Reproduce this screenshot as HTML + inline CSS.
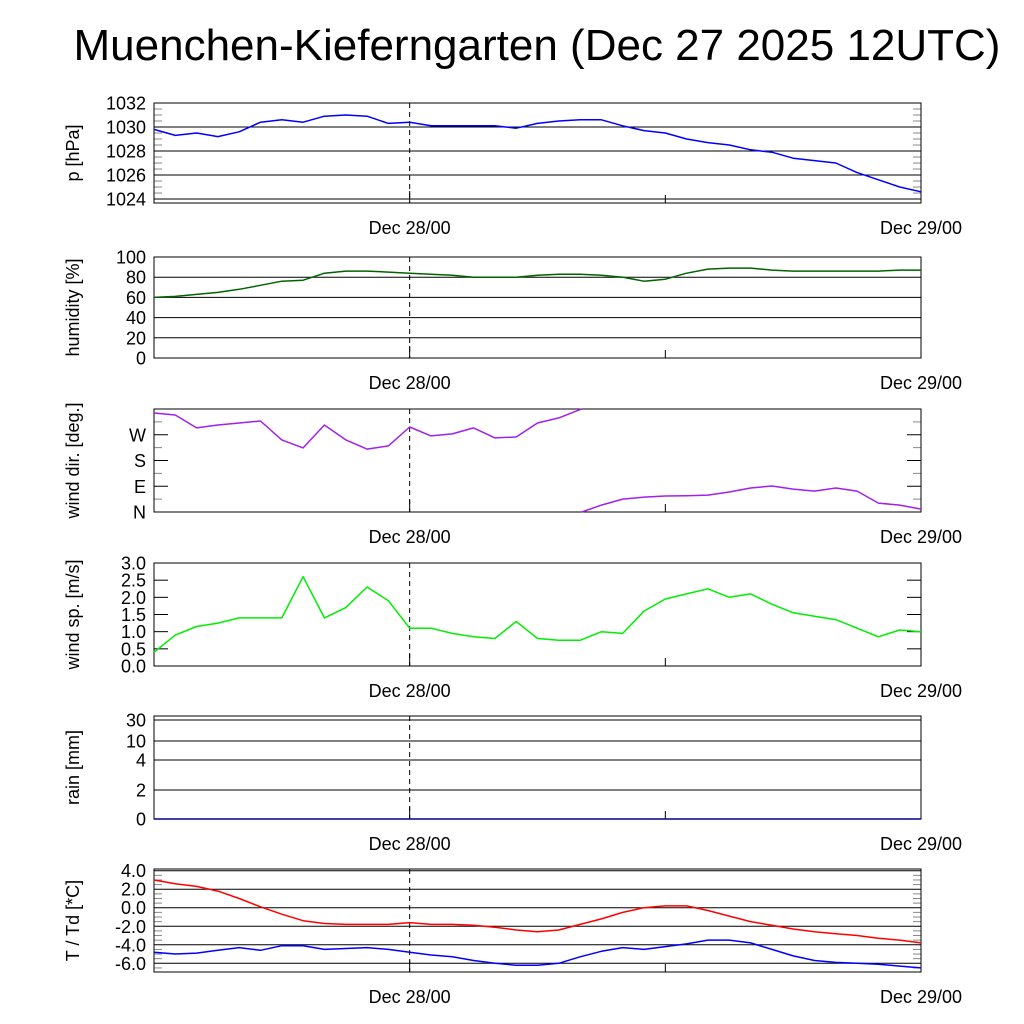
<!DOCTYPE html>
<html><head><meta charset="utf-8"><style>
html,body{margin:0;padding:0;background:#fff;}
svg{display:block;font-family:"Liberation Sans",sans-serif;}
</style></head><body>
<svg id="c" width="1024" height="1024" viewBox="0 0 1024 1024" xmlns="http://www.w3.org/2000/svg">
<text x="537" y="60" font-size="44" text-anchor="middle">Muenchen-Kieferngarten (Dec 27 2025 12UTC)</text>
</svg>
<script>
const hours = [0,1,2,3,4,5,6,7,8,9,10,11,12,13,14,15,16,17,18,19,20,21,22,23,24,25,26,27,28,29,30,31,32,33,34,35,36];
const pressure = [1029.8,1029.3,1029.5,1029.2,1029.6,1030.4,1030.6,1030.4,1030.9,1031.0,1030.9,1030.3,1030.4,1030.1,1030.1,1030.1,1030.1,1029.9,1030.3,1030.5,1030.6,1030.6,1030.1,1029.7,1029.5,1029.0,1028.7,1028.5,1028.1,1027.9,1027.4,1027.2,1027.0,1026.2,1025.6,1025.0,1024.6];
const humidity = [60,61,63,65,68,72,76,77,84,86,86,85,84,83,82,80,80,80,82,83,83,82,80,76,78,84,88,89,89,87,86,86,86,86,86,87,87];
const windDir = [346,339,294,304,311,318,252,224,304,252,220,231,297,266,273,294,259,262,311,329,358,24,45,52,56,57,59,70,84,91,80,73,84,73,31,24,10];
const windSpeed = [0.4,0.9,1.15,1.25,1.4,1.4,1.4,2.6,1.4,1.7,2.3,1.9,1.1,1.1,0.95,0.85,0.8,1.3,0.8,0.75,0.75,1.0,0.95,1.6,1.95,2.1,2.25,2.0,2.1,1.8,1.55,1.45,1.35,1.1,0.85,1.05,1.0];
const rain = [0,0,0,0,0,0,0,0,0,0,0,0,0,0,0,0,0,0,0,0,0,0,0,0,0,0,0,0,0,0,0,0,0,0,0,0,0];
const temp = [3.0,2.6,2.3,1.8,1.0,0.1,-0.7,-1.4,-1.7,-1.8,-1.8,-1.8,-1.6,-1.8,-1.8,-1.9,-2.1,-2.4,-2.6,-2.4,-1.8,-1.2,-0.5,0.0,0.2,0.2,-0.3,-0.9,-1.5,-1.9,-2.3,-2.6,-2.8,-3.0,-3.3,-3.5,-3.8];
const dewpoint = [-4.8,-5.0,-4.9,-4.6,-4.3,-4.6,-4.1,-4.1,-4.5,-4.4,-4.3,-4.5,-4.8,-5.1,-5.3,-5.7,-6.0,-6.2,-6.2,-6.0,-5.3,-4.7,-4.3,-4.5,-4.2,-3.9,-3.5,-3.5,-3.8,-4.5,-5.2,-5.7,-5.9,-6.0,-6.1,-6.3,-6.5];
const pTicks = ["1024","1026","1028","1030","1032"];
const hTicks = ["0","20","40","60","80","100"];
const dTicks = ["N","E","S","W"];
const sTicks = ["0.0","0.5","1.0","1.5","2.0","2.5","3.0"];
const rTicks = ["0","2","4","10","30"];
const tTicks = ["-6.0","-4.0","-2.0","0.0","2.0","4.0"];
const xTickLabels = ["Dec 28/00","Dec 29/00"];

const svg = document.getElementById('c');
const NS = 'http://www.w3.org/2000/svg';
const X0 = 154, X1 = 921;
function xs(h){ return X0 + (X1 - X0) * h / 36; }
function mk(tag, attrs, parent){
  const e = document.createElementNS(NS, tag);
  for (const k in attrs) e.setAttribute(k, attrs[k]);
  (parent || svg).appendChild(e);
  return e;
}
function panel(name, top, bot, ylabel, ymap, ticks, tickVals, grid, minor){
  const g = mk('g', {});
  
  
  minor.forEach(v => {
    const y = ymap(v);
    mk('line', {x1: X0, x2: X0 + 8, y1: y, y2: y, stroke: '#888', 'stroke-width': 1}, g);
    mk('line', {x1: X1 - 8, x2: X1, y1: y, y2: y, stroke: '#888', 'stroke-width': 1}, g);
  });
  ticks.forEach((t, i) => {
    const y = ymap(tickVals[i]);
    if (grid) mk('line', {x1: X0, x2: X1, y1: y, y2: y, stroke: '#000', 'stroke-width': 1}, g);
    else {
      mk('line', {x1: X0, x2: X0 + 14, y1: y, y2: y, stroke: '#000'}, g);
      mk('line', {x1: X1 - 14, x2: X1, y1: y, y2: y, stroke: '#000'}, g);
    }
    const tx = mk('text', {x: 146, y: y + 6.5, 'font-size': 18, 'text-anchor': 'end'}, g);
    tx.textContent = t;
    
    
  });
  mk('line', {x1: xs(12), x2: xs(12), y1: top, y2: bot, stroke: '#000', 'stroke-dasharray': '5,4'}, g);
  mk('line', {x1: xs(12), x2: xs(12), y1: bot - 12, y2: bot, stroke: '#000'}, g);
  mk('line', {x1: xs(24), x2: xs(24), y1: bot - 8, y2: bot, stroke: '#000'}, g);
  mk('rect', {x: X0, y: top, width: X1 - X0, height: bot - top, fill: 'none', stroke: '#000', 'stroke-width': 1}, g);
  const yl = mk('text', {x: 0, y: 0, 'font-size': 18, 'text-anchor': 'middle', transform: `translate(79,${(top + bot) / 2}) rotate(-90)`}, g);
  yl.textContent = ylabel;
  
  
  xTickLabels.forEach((l, i) => {
    const t = mk('text', {x: xs(12 + 24 * i) , y: bot + 31, 'font-size': 18, 'text-anchor': 'middle'}, g);
    t.textContent = l;
    
    
  });
  return g;
}
function series(g, name, vals, ymap, color, wrap){
  let d = '';
  vals.forEach((v, i) => {
    const x = xs(hours[i]);
    if (i > 0 && wrap && Math.abs(v - vals[i - 1]) > 180) {
      const p = vals[i - 1], px = xs(hours[i - 1]);
      const up = v < p; // crossing 360 upward
      const vu = up ? v + 360 : v - 360;
      const edge = up ? 360 : 0;
      const f = (edge - p) / (vu - p);
      const cx = px + (x - px) * f;
      d += 'L' + cx.toFixed(1) + ',' + ymap(edge).toFixed(1) + ' ';
      d += 'M' + cx.toFixed(1) + ',' + ymap(up ? 0 : 360).toFixed(1) + ' ';
      d += 'L' + x.toFixed(1) + ',' + ymap(v).toFixed(1) + ' ';
      return;
    }
    d += (i === 0 ? 'M' : 'L') + x.toFixed(1) + ',' + ymap(v).toFixed(1) + ' ';
  });
  const p = mk('path', {d: d, fill: 'none', stroke: color, 'stroke-width': 1.5, 'stroke-linejoin': 'round'}, g);
  
  
}
function lin(top, bot, vtop, vbot){ return v => bot - (v - vbot) * (bot - top) / (vtop - vbot); }

let ym = lin(103, 203, 1032, 1023.67);
let g = panel('pressure', 103, 203, 'p [hPa]', ym, pTicks, pTicks.map(Number), true, [1024.5,1025,1025.5,1026.5,1027,1027.5,1028.5,1029,1029.5,1030.5,1031,1031.5]);
series(g, 'pressure-line', pressure, ym, '#0000ff');
ym = lin(257, 358, 100, 0);
g = panel('humidity', 257, 358, 'humidity [%]', ym, hTicks, hTicks.map(Number), true, []);
series(g, 'humidity-line', humidity, ym, '#006400');
ym = lin(409, 512, 360, 0);
g = panel('wind-dir', 409, 512, 'wind dir. [deg.]', ym, dTicks, [0, 90, 180, 270], false, [45,135,225,315]);
series(g, 'wind-dir-line', windDir, ym, '#a020f0', true);
ym = lin(563, 666, 3, 0);
g = panel('wind-speed', 563, 666, 'wind sp. [m/s]', ym, sTicks, sTicks.map(Number), false, []);
series(g, 'wind-speed-line', windSpeed, ym, '#00ee00');
const rmap = v => { if (v <= 0) return 819; if (v <= 2) return 819 - v / 2 * 29; if (v <= 4) return 790 - (v - 2) / 2 * 30; if (v <= 10) return 760 - (v - 4) / 6 * 19; return 741 - (v - 10) / 20 * 21; };
g = panel('rain', 716, 819, 'rain [mm]', rmap, rTicks, rTicks.map(Number), true, []);
series(g, 'rain-line', rain, rmap, '#00008b');
ym = lin(870.7, 963.3, 4, -6);
g = panel('temperature', 869, 972, 'T / Td [*C]', ym, tTicks, tTicks.map(Number), true, [-6.5,-5.5,-5,-4.5,-3.5,-3,-2.5,-1.5,-1,-0.5,0.5,1,1.5,2.5,3,3.5]);
series(g, 'temperature-line', temp, ym, '#ff0000');
series(g, 'dewpoint-line', dewpoint, ym, '#0000ff');
</script>
</body></html>
